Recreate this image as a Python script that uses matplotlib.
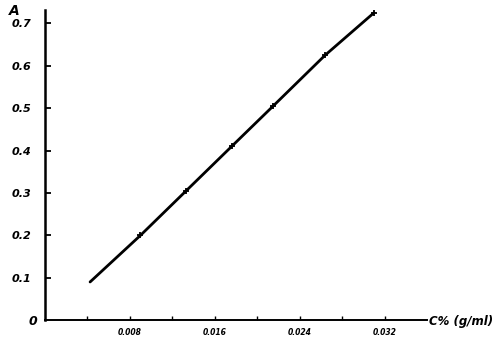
import matplotlib.pyplot as plt
import numpy as np

# calibration points
conc = [0.00425, 0.009, 0.0133, 0.0176, 0.0215, 0.0264, 0.031]
absorb = [0.09, 0.20, 0.305, 0.41, 0.505, 0.625, 0.725]
y_ticks = [0.1, 0.2, 0.3, 0.4, 0.5, 0.6, 0.7]
y_labels = ['0.1', '0.2', '0.3', '0.4', '0.5', '0.6', '0.7']
x_ticks = [0.008, 0.016, 0.024, 0.032]
x_labels = ['0.008', '0.016', '0.024', '0.032']
x_minor = [0.004, 0.012, 0.020, 0.028]

fig = plt.figure(figsize=(5.02, 3.42), dpi=100)
ax = fig.add_axes([0.0896, 0.064, 0.761, 0.906])

ax.plot(conc, absorb, color='black', lw=2.0, solid_capstyle='round')
ax.plot(conc[1:], absorb[1:], ls='none', marker='+', ms=5, mew=1.3, color='black')

ax.set_xlim(0, 0.036)
ax.set_ylim(0, 0.731)
for s in ['top', 'right']:
    ax.spines[s].set_visible(False)
ax.spines['left'].set_linewidth(1.8)
ax.spines['bottom'].set_linewidth(1.4)

ax.set_yticks(y_ticks)
ax.set_yticklabels(y_labels, fontsize=8, style='italic', fontweight='bold')
ax.set_xticks(x_ticks)
ax.set_xticklabels(x_labels, fontsize=5.5, style='italic', fontweight='bold')
ax.set_xticks(x_minor, minor=True)
ax.tick_params(axis='y', direction='in', length=4, width=1.3, pad=10)
ax.tick_params(axis='x', which='both', direction='in', length=3, width=1.0, pad=6)

ax.text(-0.0007, -0.004, '0', ha='right', va='center', fontsize=9, style='italic',
        fontweight='bold', clip_on=False)
ax.text(-0.0029, 0.73, 'A', ha='center', va='center', fontsize=10, style='italic',
        fontweight='bold', clip_on=False)
ax.text(0.0362, -0.004, 'C% (g/ml)', ha='left', va='center', fontsize=8.5, style='italic',
        fontweight='bold', clip_on=False)

fig.savefig('out.png', dpi=100)
